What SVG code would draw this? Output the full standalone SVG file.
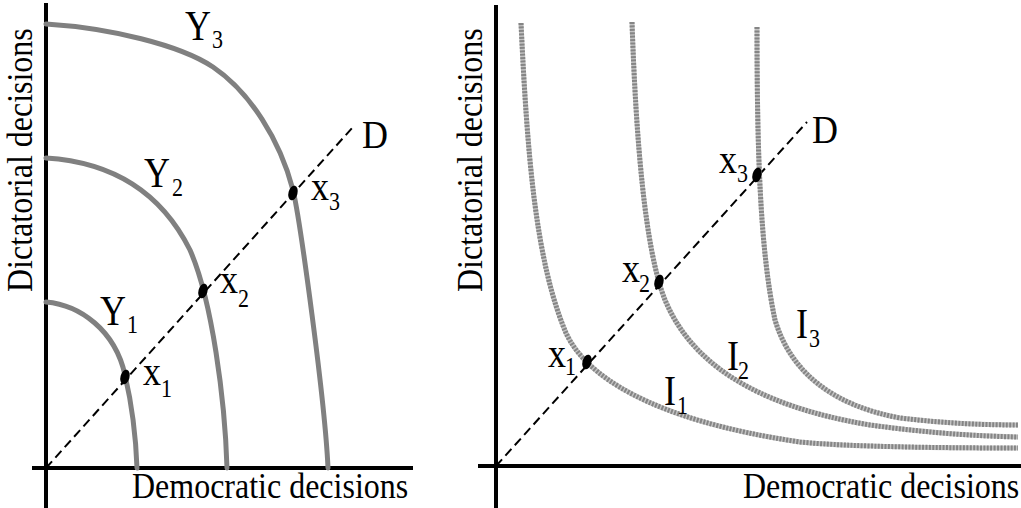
<svg xmlns="http://www.w3.org/2000/svg" width="1021" height="508" viewBox="0 0 1021 508">
<style>
.bg{fill:#fff}
.axis{stroke:#000;stroke-width:4;fill:none}
.solid{stroke:#808080;stroke-width:5;fill:none;stroke-linecap:round}
.dotbase{stroke:#c4c4c4;stroke-width:5;fill:none}
.dots{stroke:#858585;stroke-width:5;fill:none;stroke-dasharray:2 1.4}
.diag{stroke:#000;stroke-width:2;fill:none;stroke-dasharray:9 5}
.pt{fill:#000}
text{font-family:"Liberation Serif","Times New Roman",serif;fill:#000}
.ax{font-size:32px}
.lb{font-size:36px}
.sb{font-size:22px}
</style>
<rect class="bg" x="0" y="0" width="1021" height="508"/>

<g id="left-panel">
  <g id="left-axes">
    <line class="axis" x1="46" y1="3" x2="46" y2="508"/>
    <line class="axis" x1="32" y1="468" x2="413" y2="468"/>
    <text class="ax" transform="translate(132,498) scale(1,1.15)">Democratic decisions</text>
    <text class="ax" transform="translate(32,292) rotate(-90) scale(1,1.15)">Dictatorial decisions</text>
  </g>
  <g id="connectors-left">
    <path class="diag" d="M46,468 L353,127"/>
  </g>
  <g id="Y3">
    <path class="solid" d="M46,24 C110,28 180,45 213,67 C250,92 280,140 293,190 C300,220 325,400 328,468"/>
    <text class="lb" transform="translate(185,40) scale(1,1.15)">Y<tspan class="sb" dx="1" dy="7">3</tspan></text>
  </g>
  <g id="Y2">
    <path class="solid" d="M46,158 C110,162 160,190 190,250 C212,300 225,400 227,468"/>
    <text class="lb" transform="translate(144,187) scale(1,1.15)">Y<tspan class="sb" dx="2" dy="8">2</tspan></text>
  </g>
  <g id="Y1">
    <path class="solid" d="M46,302 C80,305 115,330 125,375 C132,405 136,440 137,468"/>
    <text class="lb" transform="translate(100,325) scale(1,1.15)">Y<tspan class="sb" dx="1" dy="7">1</tspan></text>
  </g>
  <g id="left-x3">
    <ellipse class="pt" cx="293" cy="193" rx="4.5" ry="7.5" transform="rotate(15 293 193)"/>
    <text class="lb" transform="translate(311,200) scale(1,1.15)">x<tspan class="sb" dy="9">3</tspan></text>
  </g>
  <g id="left-x2">
    <ellipse class="pt" cx="203" cy="291" rx="4.5" ry="7.5" transform="rotate(15 203 291)"/>
    <text class="lb" transform="translate(220,293) scale(1,1.15)">x<tspan class="sb" dy="12">2</tspan></text>
  </g>
  <g id="left-x1">
    <ellipse class="pt" cx="125" cy="377" rx="4.5" ry="7.5" transform="rotate(15 125 377)"/>
    <text class="lb" transform="translate(143,385) scale(1,1.15)">x<tspan class="sb" dy="10">1</tspan></text>
  </g>
  <g id="left-D">
    <text class="lb" transform="translate(362,148) scale(1,1.1)">D</text>
  </g>
</g>

<g id="right-panel">
  <g id="right-axes">
    <line class="axis" x1="496" y1="5" x2="496" y2="508"/>
    <line class="axis" x1="478" y1="466" x2="1021" y2="466"/>
    <text class="ax" transform="translate(743,498) scale(1,1.15)">Democratic decisions</text>
    <text class="ax" transform="translate(482,292) rotate(-90) scale(1,1.15)">Dictatorial decisions</text>
  </g>
  <g id="connectors-right">
    <path class="diag" d="M496,466 L807,122"/>
  </g>
  <g id="I1">
    <path class="dotbase" d="M521,23 C527,150 535,260 566,333 C585,375 650,420 800,442 C850,447 950,448 1018,448"/>
    <path class="dots" d="M521,23 C527,150 535,260 566,333 C585,375 650,420 800,442 C850,447 950,448 1018,448"/>
    <text class="lb" transform="translate(664,405) scale(1,1.15)">I<tspan class="sb" dx="1" dy="8">1</tspan></text>
  </g>
  <g id="I2">
    <path class="dotbase" d="M632,22 C636,140 645,250 665,300 C690,360 750,405 870,425 C920,432 970,436 1018,437"/>
    <path class="dots" d="M632,22 C636,140 645,250 665,300 C690,360 750,405 870,425 C920,432 970,436 1018,437"/>
    <text class="lb" transform="translate(727,370) scale(1,1.15)">I<tspan class="sb" dx="-1" dy="8">2</tspan></text>
  </g>
  <g id="I3">
    <path class="dotbase" d="M757,27 C757,150 760,250 775,320 C790,370 830,405 900,418 C950,424 990,425 1018,425"/>
    <path class="dots" d="M757,27 C757,150 760,250 775,320 C790,370 830,405 900,418 C950,424 990,425 1018,425"/>
    <text class="lb" transform="translate(796,338) scale(1,1.15)">I<tspan class="sb" dx="1" dy="8">3</tspan></text>
  </g>
  <g id="right-x1">
    <ellipse class="pt" cx="587" cy="362" rx="4.5" ry="7.5" transform="rotate(15 587 362)"/>
    <text class="lb" transform="translate(548,367) scale(1,1.15)">x<tspan class="sb" dx="-1" dy="7">1</tspan></text>
  </g>
  <g id="right-x2">
    <ellipse class="pt" cx="659" cy="282" rx="4.5" ry="7.5" transform="rotate(15 659 282)"/>
    <text class="lb" transform="translate(622,282) scale(1,1.15)">x<tspan class="sb" dx="-1" dy="9">2</tspan></text>
  </g>
  <g id="right-x3">
    <ellipse class="pt" cx="757" cy="175" rx="4.5" ry="7.5" transform="rotate(15 757 175)"/>
    <text class="lb" transform="translate(719,173) scale(1,1.15)">x<tspan class="sb" dx="0" dy="8">3</tspan></text>
  </g>
  <g id="right-D">
    <text class="lb" transform="translate(812,143) scale(1,1.1)">D</text>
  </g>
</g>
</svg>
